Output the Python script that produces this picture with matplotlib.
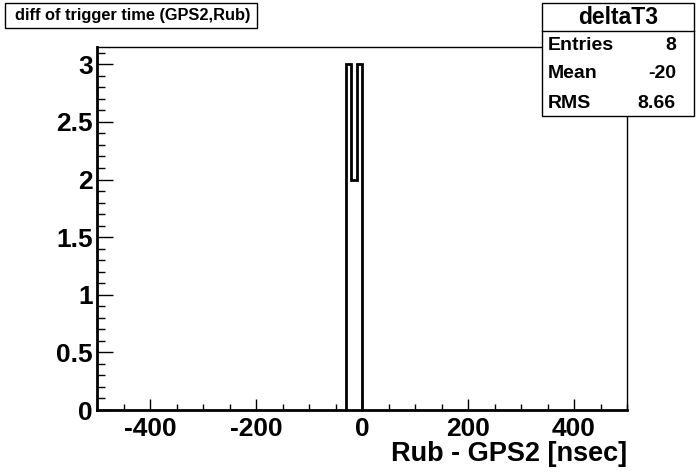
import numpy as np
import matplotlib
matplotlib.use("Agg")
import matplotlib.pyplot as plt
from matplotlib.ticker import MultipleLocator
from matplotlib.patches import Rectangle

# data
bin_edges = [-30, -20, -10, 0]
counts = [3, 2, 3]
x_range = [-500, 500]
y_max = 3.15
title = "diff of trigger time (GPS2,Rub)"
xlabel = "Rub - GPS2 [nsec]"
stats_name = "deltaT3"
stats_labels = ["Entries", "Mean", "RMS"]
stats_values = ["8", "-20", "8.66"]

plt.rcParams['font.family'] = ['Liberation Sans', 'DejaVu Sans']
plt.rcParams['font.weight'] = 'bold'

W, H = 696, 472
fig = plt.figure(figsize=(W/100, H/100), dpi=100)
L, R, B, T = 97, 627, 410, 47
ax = fig.add_axes([L/W, 1-B/H, (R-L)/W, (B-T)/H])

ax.stairs(counts, bin_edges, color='black', linewidth=2.0, baseline=0)
ax.set_xlim(*x_range)
ax.set_ylim(0, y_max)

ax.xaxis.set_major_locator(MultipleLocator(200))
ax.xaxis.set_minor_locator(MultipleLocator(50))
ax.yaxis.set_major_locator(MultipleLocator(0.5))
ax.yaxis.set_minor_locator(MultipleLocator(0.1))
ax.tick_params(axis='both', which='both', direction='in', top=False, right=False, width=1, color='black')
ax.tick_params(axis='y', which='major', length=11.5, pad=3, labelsize=19)
ax.tick_params(axis='y', which='minor', length=5.8)
ax.tick_params(axis='x', which='major', length=8, pad=5, labelsize=19)
ax.tick_params(axis='x', which='minor', length=4)

def fmt(v, p):
    return '%g' % v
ax.yaxis.set_major_formatter(matplotlib.ticker.FuncFormatter(fmt))
ax.xaxis.set_major_formatter(matplotlib.ticker.FuncFormatter(fmt))

ax.spines['left'].set_linewidth(2)
ax.spines['bottom'].set_linewidth(2)
ax.spines['top'].set_linewidth(1)
ax.spines['right'].set_linewidth(1)

ax.set_xlabel(xlabel, fontsize=19.5, fontweight='bold', loc='right', labelpad=0)

# title box
fig.patches.append(Rectangle((5/W, 1-28/H), (257-5)/W, (28-3)/H, transform=fig.transFigure,
                             facecolor='white', edgecolor='black', linewidth=1))
fig.text(133/W, 1-15.5/H, title, ha='center', va='center', fontsize=11.8, fontweight='bold')

# stats box
sx0, sx1, sy0, sy1 = 542, 694, 3, 116
fig.patches.append(Rectangle((sx0/W, 1-sy1/H), (sx1-sx0)/W, (sy1-sy0)/H, transform=fig.transFigure,
                             facecolor='white', edgecolor='black', linewidth=1, zorder=5))
fig.lines.append(plt.Line2D([sx0/W, sx1/W], [1-31/H, 1-31/H], transform=fig.transFigure,
                            color='black', linewidth=1, zorder=6))
fig.text((sx0+sx1)/2/W, 1-17/H, stats_name, ha='center', va='center', fontsize=16.5, fontweight='bold', zorder=7)
rows_y = [45, 74, 103]
for lab, val, yy in zip(stats_labels, stats_values, rows_y):
    fig.text(548/W, 1-yy/H, lab, ha='left', va='center', fontsize=14, fontweight='bold', zorder=7)
    fig.text(676/W, 1-yy/H, val, ha='right', va='center', fontsize=14, fontweight='bold', zorder=7)

fig.savefig('out.png', dpi=100)
